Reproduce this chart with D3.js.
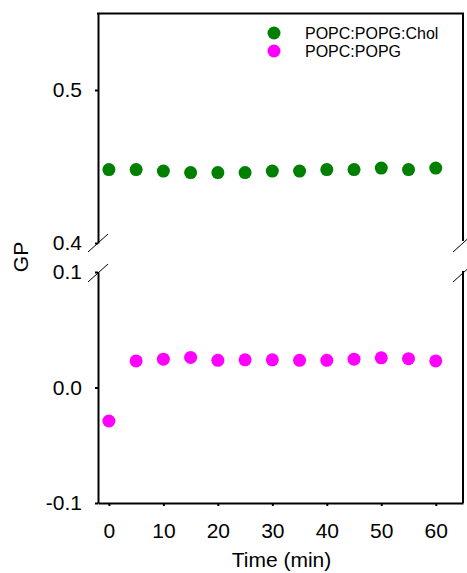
<!DOCTYPE html>
<html>
<head>
<meta charset="utf-8">
<script src="https://cdn.jsdelivr.net/npm/d3@7"></script>
<style>
  body { margin: 0; background: #fff; }
  text { font-family: "Liberation Sans", Arial, sans-serif; }
</style>
</head>
<body>
<svg id="chart" width="467" height="573"></svg>
<script>
// data
const times = [0, 5, 10, 15, 20, 25, 30, 35, 40, 45, 50, 55, 60];
const gpChol = [0.448, 0.448, 0.447, 0.446, 0.446, 0.446, 0.447, 0.447, 0.448, 0.448, 0.449, 0.448, 0.449];
const gpNoChol = [-0.029, 0.023, 0.0245, 0.026, 0.0235, 0.024, 0.024, 0.0235, 0.0235, 0.0245, 0.0257, 0.025, 0.023];
const seriesNames = ["POPC:POPG:Chol", "POPC:POPG"];
const seriesColors = ["#008000", "#ff00ff"];
const xTicks = [0, 10, 20, 30, 40, 50, 60];
const yTopTicks = [0.4, 0.5];
const yBotTicks = [-0.1, 0.0, 0.1];

const svg = d3.select("#chart");
const plotLeft = 98, plotRight = 463, plotTop = 13.5, plotBottom = 503;
const breakTop = 243, breakBot = 272;

let x = d3.scaleLinear().domain([-2, 65]).range([plotLeft, plotRight]);
let yTop = d3.scaleLinear().domain([0.4, 0.55]).range([breakTop, plotTop]);
let yBot = d3.scaleLinear().domain([-0.1, 0.1]).range([plotBottom, breakBot]);

let fmt = d => d.toFixed(1);
let fontSize = 21;

// axes
let gx = svg.append("g")
    .attr("transform", "translate(0," + plotBottom + ")")
    .call(d3.axisBottom(x).tickValues(xTicks).tickSize(3).tickSizeOuter(0).tickPadding(17));

let gyTop = svg.append("g")
    .attr("transform", "translate(" + plotLeft + ",0)")
    .call(d3.axisLeft(yTop).tickValues(yTopTicks).tickFormat(fmt).tickSize(3).tickSizeOuter(0).tickPadding(13));

let gyBot = svg.append("g")
    .attr("transform", "translate(" + plotLeft + ",0)")
    .call(d3.axisLeft(yBot).tickValues(yBotTicks).tickFormat(fmt).tickSize(3).tickSizeOuter(0).tickPadding(13));

[gx, gyTop, gyBot].forEach(g => {
    g.selectAll("path.domain").attr("stroke", "#000").attr("stroke-width", 2);
    g.selectAll(".tick line").attr("stroke", "#000").attr("stroke-width", 2);
    g.selectAll(".tick text").attr("fill", "#000").style("font-size", fontSize + "px")
        .style("font-family", "'Liberation Sans', Arial, sans-serif");
});

// frame: top and right sides (right side is broken too)
let frame = svg.append("g").attr("stroke", "#000").attr("stroke-width", 2).attr("fill", "none");
frame.append("line").attr("x1", plotLeft - 1).attr("x2", plotRight + 1).attr("y1", plotTop).attr("y2", plotTop);
frame.append("line").attr("x1", plotRight).attr("x2", plotRight).attr("y1", plotTop).attr("y2", yTop(0.4) - 2);
frame.append("line").attr("x1", plotRight).attr("x2", plotRight).attr("y1", yBot(0.1) - 1).attr("y2", plotBottom);

// break marks
let breaks = svg.append("g").attr("stroke", "#000").attr("stroke-width", 1);
[plotLeft, plotRight].forEach(bx => {
    [yTop(0.4), yBot(0.1) + 1].forEach(by => {
        breaks.append("line")
            .attr("x1", bx - 10).attr("y1", by + 9)
            .attr("x2", bx + 10).attr("y2", by - 9);
    });
});

// points
let r = 6.5;
svg.append("g").selectAll("circle")
    .data(times.map((t, i) => [t, gpChol[i]]))
    .enter().append("circle")
    .attr("cx", d => x(d[0]))
    .attr("cy", d => yTop(d[1]))
    .attr("r", r)
    .attr("fill", seriesColors[0]);

svg.append("g").selectAll("circle")
    .data(times.map((t, i) => [t, gpNoChol[i]]))
    .enter().append("circle")
    .attr("cx", d => x(d[0]))
    .attr("cy", d => yBot(d[1]))
    .attr("r", r)
    .attr("fill", seriesColors[1]);

// axis titles
svg.append("text")
    .attr("x", (plotLeft + plotRight) / 2 + 1)
    .attr("y", 567)
    .attr("text-anchor", "middle")
    .style("font-size", fontSize + "px")
    .text("Time (min)");

svg.append("text")
    .attr("transform", "translate(28,257) rotate(-90)")
    .attr("text-anchor", "middle")
    .style("font-size", fontSize + "px")
    .text("GP");

// legend
let legend = svg.append("g");
seriesNames.forEach((name, i) => {
    let ly = 33 + i * 18;
    legend.append("circle").attr("cx", 274).attr("cy", ly).attr("r", r).attr("fill", seriesColors[i]);
    legend.append("text").attr("x", 305).attr("y", ly).attr("dy", "0.36em")
        .style("font-size", "16px").text(name);
});
</script>
</body>
</html>
